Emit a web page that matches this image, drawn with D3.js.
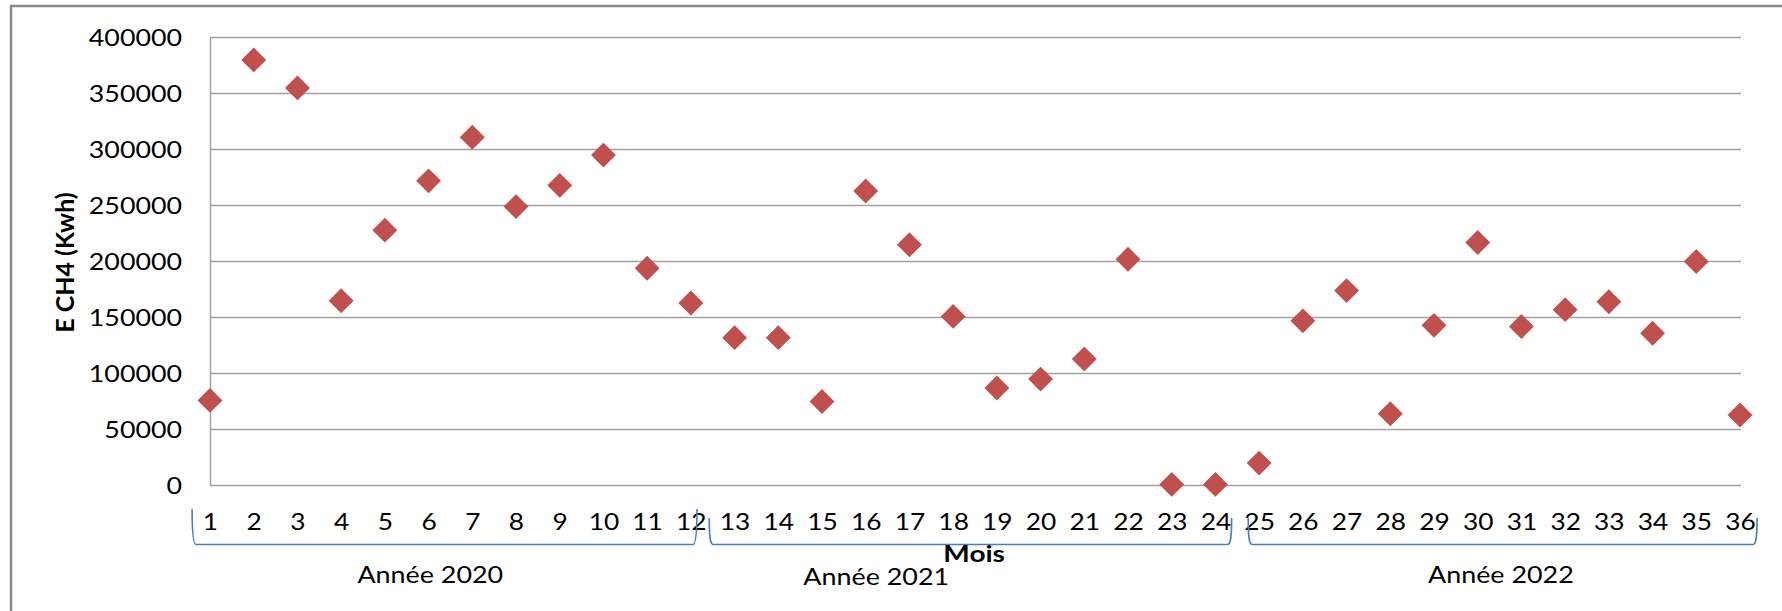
<!DOCTYPE html>
<html>
<head>
<meta charset="utf-8">
<script src="https://cdn.jsdelivr.net/npm/d3@7"></script>
<style>
  html, body { margin: 0; padding: 0; background: #fff; }
  svg { display: block; }
  text { font-family: Lato, "Open Sans", sans-serif; fill: #000; }
</style>
</head>
<body>
<div id="vis"></div>
<script>
// months 1..36
var months = d3.range(1, 37);

// E CH4 (Kwh) per month
var energy = [
  76000, 380000, 355000, 165000, 228000, 272000, 311000, 249000, 268000, 295000, 194000, 163000,
  132000, 132000, 75000, 263000, 215000, 151000, 87000, 95000, 113000, 202000, 1000, 1000,
  20000, 147000, 174000, 64000, 143000, 217000, 142000, 157000, 164000, 136000, 200000, 63000
];

var yTicks = [0, 50000, 100000, 150000, 200000, 250000, 300000, 350000, 400000];

var yearLabels = ['Année 2020', 'Année 2021', 'Année 2022'];
var yearMonths = [[1, 12], [13, 24], [25, 36]];

// hand drawn braces under the axis, in month units (they are not regular)
var braceSpan = [[0.59, 12.14], [12.42, 24.37], [24.75, 36.39]];
var braceTop = [[509, 509], [518, 518], [518, 518]];
var labelAt = [6.04, 16.24, 30.53];

var width = 1782, height = 611;
var plot = { left: 210, right: 1740, top: 37.5, bottom: 485.5 };

var svg = d3.select('#vis').append('svg')
  .attr('width', width)
  .attr('height', height);

// chart frame (only top and left edges are in the picture)
svg.append('path')
  .attr('d', 'M11,' + height + 'V6H' + width)
  .attr('fill', 'none')
  .attr('stroke', '#8a8a8a')
  .attr('stroke-width', 2.5);

var x = d3.scaleLinear().domain([1, 36]).range([plot.left, plot.right]);
var y = d3.scaleLinear().domain([0, 400000]).range([plot.bottom, plot.top]);

// gridlines
svg.append('g')
  .selectAll('line')
  .data(yTicks)
  .join('line')
  .attr('x1', plot.left)
  .attr('x2', plot.right + 1)
  .attr('y1', function (d) { return y(d); })
  .attr('y2', function (d) { return y(d); })
  .attr('stroke', '#a2a2a2')
  .attr('stroke-width', 1.5);

// y axis
var yAxis = svg.append('g')
  .attr('transform', 'translate(' + plot.left + ',0)')
  .call(d3.axisLeft(y).tickValues(yTicks).tickSize(0).tickPadding(28).tickFormat(d3.format('d')));
yAxis.select('.domain').attr('stroke', '#a2a2a2').attr('stroke-width', 1.5);
yAxis.selectAll('text')
  .attr('font-size', 23.5)
  .attr('font-family', 'Lato')
  .attr('transform', 'scale(1.14,1)')
  .attr('x', -28 / 1.14);

// x tick labels
var xAxis = svg.append('g')
  .attr('transform', 'translate(0,' + plot.bottom + ')')
  .call(d3.axisBottom(x).tickValues(months).tickSize(0).tickPadding(0).tickFormat(d3.format('d')));
xAxis.select('.domain').remove();
xAxis.selectAll('text')
  .attr('font-size', 23.5)
  .attr('font-family', 'Lato')
  .attr('dy', null)
  .attr('y', 44.5)
  .attr('transform', function () {
    // stretch each label round its own centre
    var cx = +d3.select(this.parentNode).attr('transform').match(/translate\(([^,]+)/)[1];
    return 'translate(' + (-cx * 0.12) + ',0) scale(1.12,1)';
  })
  .attr('x', function () {
    var cx = +d3.select(this.parentNode).attr('transform').match(/translate\(([^,]+)/)[1];
    return cx * 0.12 / 1.12;
  });

// braces
var braces = svg.append('g')
  .attr('fill', 'none')
  .attr('stroke', '#4a7ebb')
  .attr('stroke-width', 1.6);

var braceBottom = 544.5;
braceSpan.forEach(function (s, i) {
  var x0 = x(s[0]), x1 = x(s[1]);
  var t0 = braceTop[i][0], t1 = braceTop[i][1];
  braces.append('path')
    .attr('d',
      'M' + x0 + ',' + t0 +
      'C' + x0 + ',' + (t0 + 20) + ' ' + (x0 + 1) + ',' + braceBottom + ' ' + (x0 + 4) + ',' + braceBottom +
      'H' + (x1 - 4) +
      'C' + (x1 - 1) + ',' + braceBottom + ' ' + x1 + ',' + (t1 + 20) + ' ' + x1 + ',' + t1);
});

// year labels
svg.append('g')
  .selectAll('text')
  .data(yearLabels)
  .join('text')
  .attr('text-anchor', 'middle')
  .attr('font-size', 24)
  .attr('transform', function (d, i) {
    var by = i === 1 ? 585 : 583;
    return 'translate(' + x(labelAt[i]) + ',' + by + ') scale(1.12,1)';
  })
  .text(function (d) { return d; });

// axis titles
svg.append('text')
  .attr('text-anchor', 'middle')
  .attr('font-weight', 'bold')
  .attr('font-size', 23)
  .attr('transform', 'translate(' + x(18.48) + ',562) scale(1.22,1)')
  .text('Mois');

svg.append('text')
  .attr('text-anchor', 'middle')
  .attr('font-weight', 'bold')
  .attr('font-size', 25)
  .attr('transform', 'translate(74,262.5) rotate(-90)')
  .text('E CH4 (Kwh)');

// points
var diamond = d3.symbol().type(d3.symbolSquare).size(310);

svg.append('g')
  .selectAll('path')
  .data(months)
  .join('path')
  .attr('d', diamond)
  .attr('fill', '#c0504d')
  .attr('transform', function (d, i) {
    return 'translate(' + x(d) + ',' + y(energy[i]) + ') rotate(45)';
  });
</script>
</body>
</html>
